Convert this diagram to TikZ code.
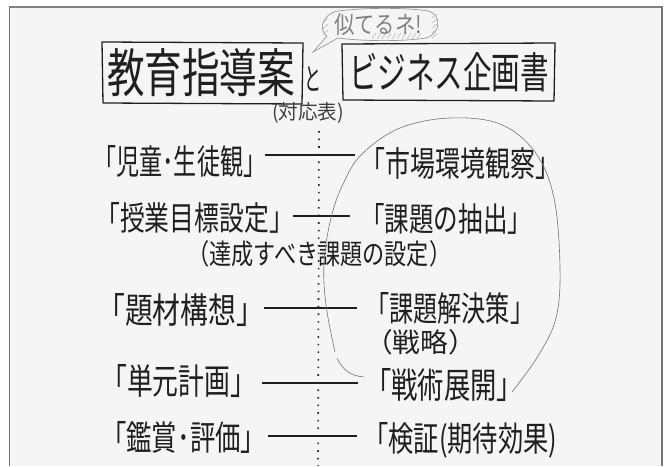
\documentclass[tikz,border=0pt]{standalone}
\usepackage{graphicx}
\usepackage{fontspec}
\newfontfamily\jp{Noto Sans CJK JP}
\newcommand\fitwh[3]{\resizebox{#1}{#2}{\jp #3}}
\begin{document}
\begin{tikzpicture}[x=1pt,y=-1pt,
  txt/.style={inner sep=0pt, anchor=west, text=black!88},
  ctxt/.style={inner sep=0pt, anchor=center, text=black!88},
  conn/.style={line width=1.5pt, black!88},
  boxline/.style={line width=1.3pt, black!88, line join=round},
  loopline/.style={line width=0.6pt, black!55},
  bubline/.style={line width=0.7pt, black!40},
  hatch/.style={line width=0.5pt, black!30}]
\useasboundingbox (0,0) rectangle (671,466);
\fill[white] (0,0) rectangle (671,466);
\fill[black!4] (9.5,7) rectangle (662,466);
% frame
\draw[black!50, line width=2.5pt] (9,7) -- (663,7);
\draw[black!55, line width=1pt] (9.5,7) -- (9.5,466);
\draw[black!55, line width=2pt] (662,7) -- (662,466);

% title boxes
\draw[boxline] (102,42) -- (303,43) -- (302,104) -- (103,103) -- cycle;
\node[ctxt] (t1) at (201,73) {\fitwh{188pt}{44pt}{教育指導案}};
\node[ctxt] (to) at (313,79) {\fitwh{17pt}{24pt}{と}};
\draw[boxline] (342,44) -- (555,43) -- (554,101) -- (343,100) -- cycle;
\node[ctxt] (t2) at (449,72) {\fitwh{200pt}{36pt}{ビジネス企画書}};
\node[ctxt, text=black!75] (tab) at (308,113) {\fitwh{72pt}{17pt}{(対応表)}};

% speech bubble
\draw[bubline] (327,36) .. controls (318,30) and (322,14) .. (338,11)
  .. controls (370,7) and (410,8) .. (428,11)
  .. controls (442,14) and (441,34) .. (426,38)
  .. controls (400,42) and (360,41) .. (338,38);
\draw[bubline] (327,36) -- (313,52) -- (338,38);
\foreach \x in {372,377,...,417} \draw[hatch] (\x,39) -- (\x+4,33);
\foreach \y in {14,19,...,34} \draw[hatch] (432,\y+4) -- (437,\y);
\foreach \y in {18,24,30} \draw[hatch] (323,\y+5) -- (328,\y);
\node[ctxt, text=black!50] (bub) at (378,25) {\fitwh{88pt}{20pt}{似てるネ!}};

% dotted centre line
\coordinate (dtop) at (319,131);
\coordinate (dbot) at (318,466);
\draw[line width=1.6pt, dash pattern=on 1.6pt off 6pt, black!85] (dtop) -- (dbot);

% rows
\node[txt] (L1) at (93,161) {\fitwh{173pt}{29pt}{「児童･生徒観」}};
\node[txt] (R1) at (360,163) {\fitwh{200pt}{29pt}{「市場環境観察」}};
\coordinate (a1) at (265,155); \coordinate (b1) at (355,155);
\draw[conn] (a1) -- (b1);

\node[txt] (L2) at (95,218) {\fitwh{199pt}{28pt}{「授業目標設定」}};
\node[txt] (R2) at (360,219) {\fitwh{172pt}{28pt}{「課題の抽出」}};
\coordinate (a2) at (293,216); \coordinate (b2) at (350,216);
\draw[conn] (a2) -- (b2);
\node[txt] (S2) at (187,254) {\fitwh{264pt}{24pt}{（達成すべき課題の設定）}};

\node[txt] (L3) at (97,310) {\fitwh{167pt}{30pt}{「題材構想」}};
\node[txt] (R3) at (365,308) {\fitwh{169pt}{29pt}{「課題解決策」}};
\coordinate (a3) at (264,308); \coordinate (b3) at (357,308);
\draw[conn] (a3) -- (b3);
\node[txt] (S3) at (365,342) {\fitwh{111pt}{23pt}{（戦略）}};

\node[txt] (L4) at (101,381) {\fitwh{155pt}{30pt}{「単元計画」}};
\node[txt] (R4) at (365,385) {\fitwh{158pt}{30pt}{「戦術展開」}};
\coordinate (a4) at (262,383); \coordinate (b4) at (358,383);
\draw[conn] (a4) -- (b4);

\node[txt] (L5) at (101,437) {\fitwh{165pt}{29pt}{「鑑賞･評価」}};
\node[txt] (R5) at (363,440) {\fitwh{194pt}{29pt}{「検証(期待効果)}};
\coordinate (a5) at (268,436); \coordinate (b5) at (357,436);
\draw[conn] (a5) -- (b5);

% hand-drawn loop
\draw[loopline] plot[smooth, tension=0.6] coordinates {
  (335,352) (326,305) (324,262) (331,218) (343,184) (362,154)
  (400,128) (450,118) (500,124) (535,152) (554,198) (560,268)
  (556,318) (538,356) (512,392)};
\draw[loopline] (337,358) .. controls (342,369) and (350,376) .. (364,377);
\end{tikzpicture}
\end{document}
